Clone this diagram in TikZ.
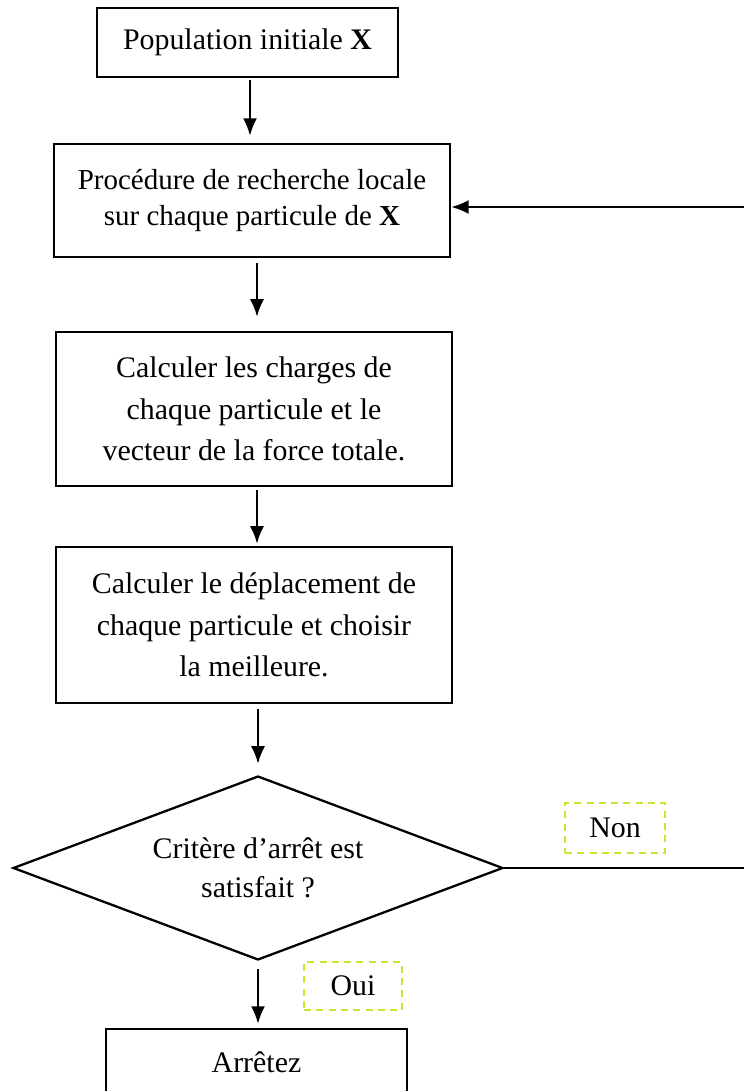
\documentclass[tikz,border=0pt]{standalone}
\usepackage{fontspec}
\setmainfont{Liberation Serif}
\usepackage{tikz}
\usetikzlibrary{arrows.meta,shapes.geometric}

\definecolor{tagcol}{RGB}{200,230,50}
\tikzset{
    box/.style={draw,line width=1.3pt,rectangle,align=center,inner sep=0pt},
    crit/.style={draw,line width=1.3pt,diamond,aspect=2.66,align=center,inner sep=0pt},
    tag/.style={draw=tagcol,line width=1.4pt,dash pattern=on 4pt off 3pt,inner sep=0pt},
    flow/.style={line width=1.3pt,-{Latex[length=10pt,width=8pt]}}
}

\begin{document}
\begin{tikzpicture}[x=0.02cm,y=-0.02cm]
                \useasboundingbox (0,0) rectangle (744,1091);
                \clip (0,0) rectangle (744,1091);
                \fontsize{17}{23.5}\selectfont

                \node[box,minimum width=6.02cm,minimum height=1.38cm] (init) at (247.5,42.5) {Population initiale \textbf{X}};
                \node[box,minimum width=7.92cm,minimum height=2.26cm,font=\fontsize{16.5}{21}\selectfont] (local) at (252,200.5) {Procédure de recherche locale\\sur chaque particule de \textbf{X}};
                \node[box,minimum width=7.92cm,minimum height=3.08cm] (charges) at (254,409) {Calculer les charges de\\chaque particule et le\\vecteur de la force totale.};
                \node[box,minimum width=7.92cm,minimum height=3.12cm] (depl) at (254,625) {Calculer le déplacement de\\chaque particule et choisir\\la meilleure.};
                \node[crit,minimum width=9.8cm,minimum height=3.68cm,font=\fontsize{17}{22.5}\selectfont] (test) at (258,868) {Critère d’arrêt est\\satisfait ?};
                \node[box,minimum width=6.02cm,minimum height=1.32cm] (stop) at (256.5,1062) {Arrêtez};

                \node[tag,minimum width=2cm,minimum height=1cm] (non) at (615,828) {Non};
                \node[tag,minimum width=1.96cm,minimum height=0.96cm] (oui) at (353,986) {Oui};

                \coordinate (retR) at (744,868);
                \coordinate (retT) at (744,207);

                % vertical flow
                \draw[flow,shorten <=1.1pt,shorten >=4pt] ([xshift=0.05cm]init.south) -- ([xshift=0.05cm]init.south |- local.north);
                \draw[flow,shorten <=2.8pt,shorten >=8pt] ([xshift=0.1cm]local.south) -- ([xshift=0.1cm]local.south |- charges.north);
                \draw[flow,shorten <=1.7pt,shorten >=1.2pt] ([xshift=0.06cm]charges.south) -- ([xshift=0.06cm]charges.south |- depl.north);
                \draw[flow,shorten <=2.8pt,shorten >=6.3pt] ([xshift=0.08cm]depl.south) -- ([xshift=0.08cm]depl.south |- test.north);
                \draw[flow,shorten <=4.6pt,shorten >=2.3pt] (test.south) -- (test.south |- stop.north);

                % return loop
                \draw[line width=1.3pt] (test.east) -- (retR);
                \draw[flow] (retT) -- (retT -| local.east);
\end{tikzpicture}
\end{document}
